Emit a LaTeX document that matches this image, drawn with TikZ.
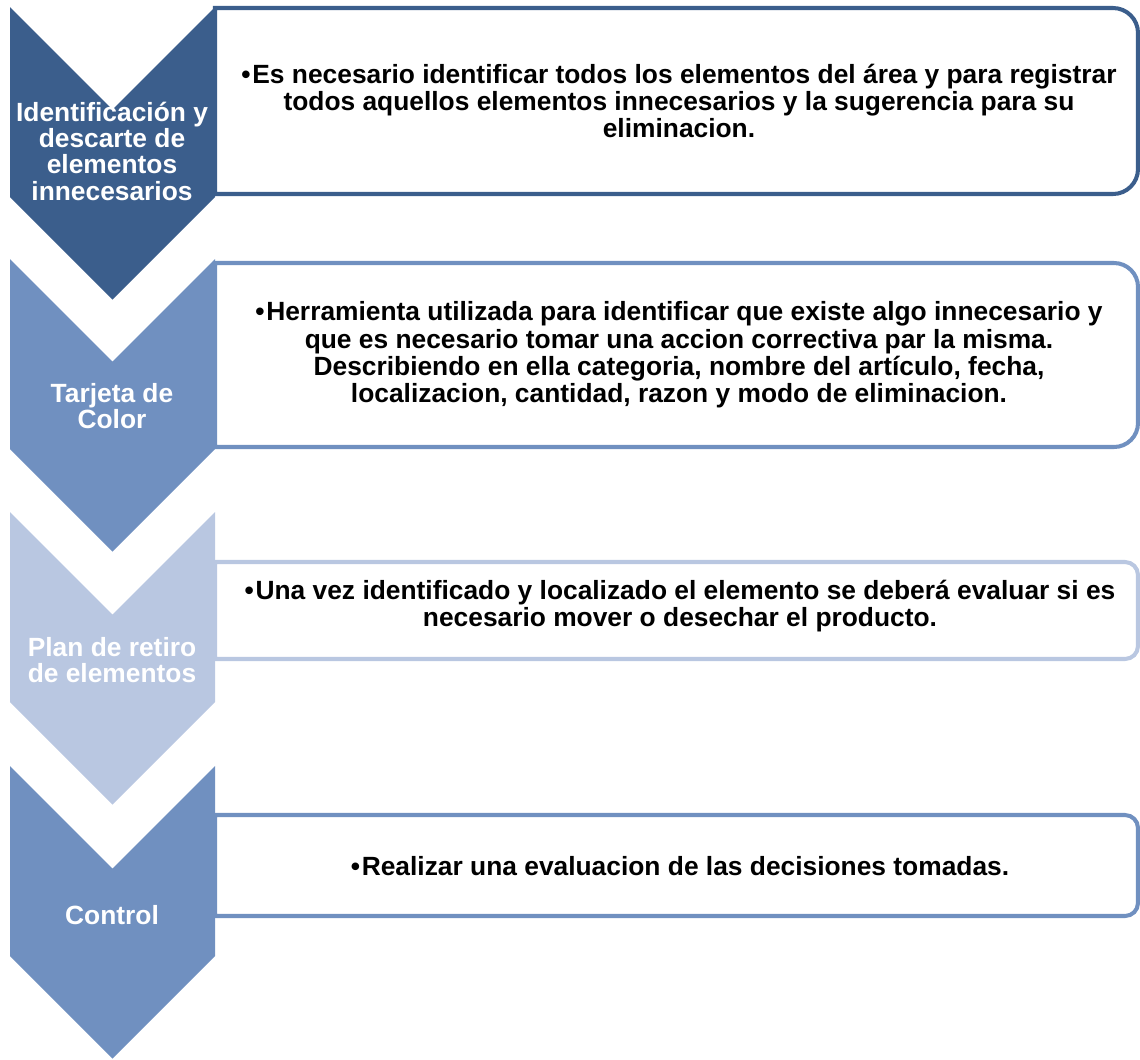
\documentclass[tikz,border=0pt]{standalone}
\usepackage{fontspec}
\setmainfont{Liberation Sans}

\definecolor{blueDark}{HTML}{3B5E8C}
\definecolor{blueMid}{HTML}{7090C0}
\definecolor{blueLight}{HTML}{B9C7E1}

\begin{document}
\begin{tikzpicture}[
    x=0.02cm, y=-0.02cm,
    chev/.style={draw=none},
    card/.style={line width=2.3pt, fill=white},
    stage/.style={text=white, align=center, font=\bfseries\fontsize{15}{15}\selectfont},
    note/.style={text=black, align=center, font=\bfseries\fontsize{15}{15.6}\selectfont}
]
\useasboundingbox (0,0) rectangle (1140,1059);

% chevrons
\draw[chev, fill=blueDark]  (10,7)   -- (112.5,109.5) -- (215,7)   -- (215,197) -- (112.5,299.5)  -- (10,197) -- cycle;
\draw[chev, fill=blueMid]   (10,259) -- (112.5,361.5) -- (215,259) -- (215,449) -- (112.5,551.5)  -- (10,449) -- cycle;
\draw[chev, fill=blueLight] (10,512) -- (112.5,614.5) -- (215,512) -- (215,702) -- (112.5,804.5)  -- (10,702) -- cycle;
\draw[chev, fill=blueMid]   (10,766) -- (112.5,868.5) -- (215,766) -- (215,956) -- (112.5,1058.5) -- (10,956) -- cycle;

% cards
\draw[card, draw=blueDark]  (215,8)   -- (1113,8)   arc[start angle=-90, end angle=0, radius=25] -- (1138,169) arc[start angle=0, end angle=90, radius=25] -- (215,194) -- cycle;
\draw[card, draw=blueMid]   (215,263) -- (1114,263) arc[start angle=-90, end angle=0, radius=24] -- (1138,423) arc[start angle=0, end angle=90, radius=24] -- (215,447) -- cycle;
\draw[card, draw=blueLight] (215,562) -- (1125,562) arc[start angle=-90, end angle=0, radius=13] -- (1138,646) arc[start angle=0, end angle=90, radius=13] -- (215,659) -- cycle;
\draw[card, draw=blueMid]   (215,815) -- (1125,815) arc[start angle=-90, end angle=0, radius=13] -- (1138,903) arc[start angle=0, end angle=90, radius=13] -- (215,916) -- cycle;

% stage labels
\node[stage] (ident)   at (112,151) {Identificación y\\descarte de\\elementos\\innecesarios};
\node[stage] (tarjeta) at (112,406) {Tarjeta de\\Color};
\node[stage] (plan)    at (112,660) {Plan de retiro\\de elementos};
\node[stage] (control) at (112,915) {Control};

% notes
\node[note] (identNote) at (679,101) {•\hspace{1pt}Es necesario identificar todos los elementos del área y para registrar\\todos aquellos elementos innecesarios y la sugerencia para su\\eliminacion.};
\node[note] (tarjetaNote) at (679,355) {•\hspace{1pt}Herramienta utilizada para identificar que existe algo innecesario y\\que es necesario tomar una accion correctiva par la misma.\\Describiendo en ella categoria, nombre del artículo, fecha,\\localizacion, cantidad, razon y modo de eliminacion.};
\node[note] (planNote) at (680,606) {•\hspace{1pt}Una vez identificado y localizado el elemento se deberá evaluar si es\\necesario mover o desechar el producto.};
\node[note] (controlNote) at (680,866) {•\hspace{1pt}Realizar una evaluacion de las decisiones tomadas.};

\end{tikzpicture}
\end{document}
